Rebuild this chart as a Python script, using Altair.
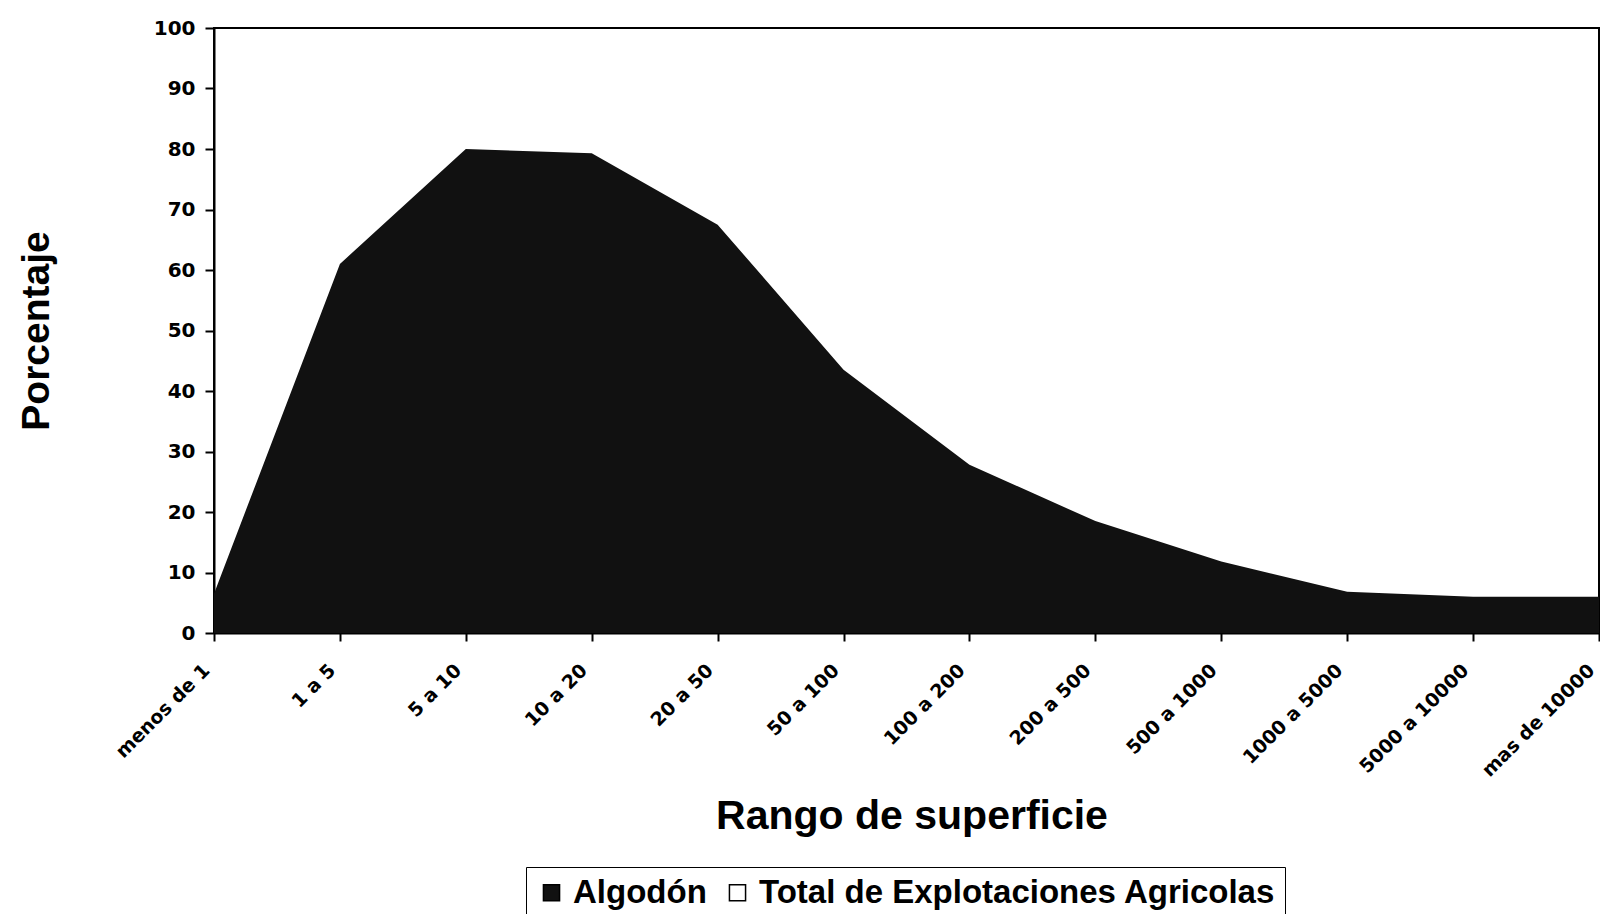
import altair as alt
import pandas as pd

categories = ["menos de 1", "1 a 5", "5 a 10", "10 a 20", "20 a 50", "50 a 100",
              "100 a 200", "200 a 500", "500 a 1000", "1000 a 5000", "5000 a 10000", "mas de 10000"]
algodon = [6.5, 61.0, 80.0, 79.3, 67.5, 43.5, 27.8, 18.5, 11.8, 6.8, 6.0, 6.0]
series_names = ["Algodón", "Total de Explotaciones Agricolas"]
series_colors = ["#111111", "#ffffff"]
y_ticks = [0, 10, 20, 30, 40, 50, 60, 70, 80, 90, 100]

df = pd.DataFrame({"rango": categories, "pct": algodon, "serie": series_names[0]})

W, H = 1385, 605

chart = alt.Chart(df).mark_area(opacity=1, interpolate="linear").encode(
    x=alt.X("rango:N", sort=categories,
            scale=alt.Scale(type="point", padding=0),
            axis=alt.Axis(title="Rango de superficie", labelAngle=-45,
                          labelAlign="right", labelBaseline="middle",
                          labelFont="DejaVu Sans", labelFontWeight="bold", labelFontSize=19,
                          labelColor="black", labelPadding=26, labelOffset=-8,
                          tickSize=8, tickColor="black",
                          tickWidth=2, domainColor="black", domainWidth=2, grid=False,
                          titleFont="Liberation Sans", titleFontWeight="bold", titleFontSize=41,
                          titleColor="black", titleX=W / 2 + 5, titleY=183,
                          titleAlign="center", titleBaseline="middle")),
    y=alt.Y("pct:Q", stack=None,
            scale=alt.Scale(domain=[0, 100], nice=False),
            axis=alt.Axis(title="Porcentaje", values=y_ticks,
                          labelFont="DejaVu Sans", labelFontWeight="bold", labelFontSize=20,
                          labelColor="black", labelPadding=10, tickSize=9, tickColor="black",
                          tickWidth=2, domainColor="black", domainWidth=2, grid=False,
                          titleFont="Liberation Sans", titleFontWeight="bold", titleFontSize=39,
                          titleColor="black", titleX=-178, titleY=H / 2, titleAngle=-90,
                          titleAlign="center", titleBaseline="middle")),
    color=alt.Color("serie:N",
                    scale=alt.Scale(domain=series_names, range=series_colors),
                    legend=alt.Legend(title=None, orient="none", legendX=312, legendY=839,
                                      direction="horizontal", strokeColor="black",
                                      padding=9, labelFont="Liberation Sans",
                                      labelFontWeight="bold", labelFontSize=33,
                                      labelColor="black", labelLimit=1000, labelOffset=5,
                                      symbolType="square", symbolSize=260,
                                      symbolStrokeColor="black", symbolStrokeWidth=1.5,
                                      symbolOpacity=1, columnPadding=14)),
).properties(
    width=W, height=H,
    background="white",
    autosize=alt.AutoSizeParams(type="none"),
    padding={"left": 206, "top": 20, "right": 1, "bottom": 281},
).configure_view(
    stroke="black", strokeWidth=2
)

chart.save("out.html", embed_options={"renderer": "svg", "actions": False})
